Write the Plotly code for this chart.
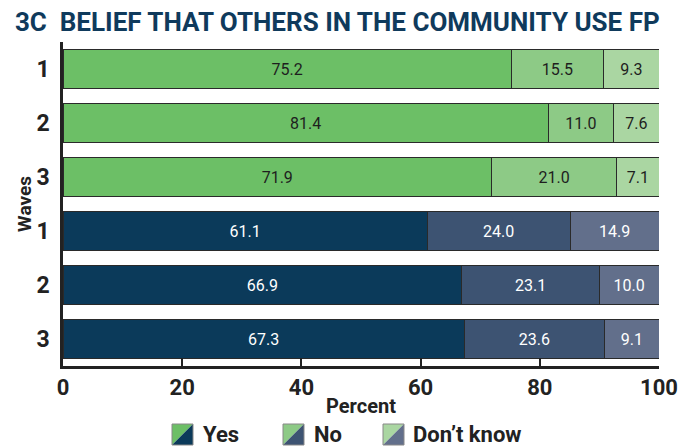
import plotly.graph_objects as go

# ---- data ----
wave_labels = ["1", "2", "3", "1", "2", "3"]
yes_vals = [75.2, 81.4, 71.9, 61.1, 66.9, 67.3]
no_vals = [15.5, 11.0, 21.0, 24.0, 23.1, 23.6]
dk_vals = [9.3, 7.6, 7.1, 14.9, 10.0, 9.1]
x_ticks = [0, 20, 40, 60, 80, 100]
legend_names = ["Yes", "No", "Don\u2019t know"]

# ---- styles ----
FONT = "Roboto, Arial, sans-serif"
green = {"Yes": "#6cbf66", "No": "#8dca86", "Dk": "#aad6a2"}
navy = {"Yes": "#0b3a5a", "No": "#3d5372", "Dk": "#626f8b"}
is_green = [True, True, True, False, False, False]

W, H = 678, 447
L, R, T, B = 63, 19, 42, 81
pw, ph = W - L - R, H - T - B

def px_to_paper(px, py):
    return (px - L) / pw, (H - B - py) / ph

ypos = list(range(len(wave_labels)))

fig = go.Figure()
series = [("Yes", yes_vals), ("No", no_vals), ("Dk", dk_vals)]
for key, vals in series:
    colors = [green[key] if g else navy[key] for g in is_green]
    tcolors = ["#1e1e1e" if g else "#ffffff" for g in is_green]
    fig.add_trace(go.Bar(
        x=vals, y=ypos, orientation="h",
        marker=dict(color=colors, line=dict(color="#2a2a2a", width=1)),
        text=[f"{v:.1f}" for v in vals], textposition="inside",
        insidetextanchor="middle", textangle=0,
        textfont=dict(family=FONT, size=16, color=tcolors),
        width=0.71, showlegend=False, hoverinfo="skip",
    ))

fig.update_layout(
    barmode="stack",
    width=W, height=H,
    margin=dict(l=L, r=R, t=T, b=B),
    paper_bgcolor="white", plot_bgcolor="white",
    font=dict(family=FONT, color="#222222"),
    title=dict(text="<b>3C  BELIEF THAT OTHERS IN THE COMMUNITY USE FP</b>",
               x=0.022, xanchor="left", y=0.95, yanchor="middle",
               font=dict(family=FONT, size=26, color="#0f3a5c")),
    uniformtext=dict(minsize=10, mode="show"),
)
fig.update_xaxes(range=[0, 100], tickvals=x_ticks, showgrid=False, zeroline=False,
                 automargin=False,
                 showline=True, linecolor="#222222", linewidth=2.5,
                 ticks="inside", ticklen=8, tickwidth=2, tickcolor="#222222",
                 tickfont=dict(family=FONT, size=22, color="#222222", weight="bold"),
                 title=dict(text="<b>Percent</b>", standoff=0,
                            font=dict(family=FONT, size=20, color="#222222")))
fig.update_yaxes(range=[5.5, -0.5], tickvals=ypos, ticktext=wave_labels,
                 automargin=False,
                 showgrid=False, zeroline=False, showline=True, linecolor="#222222",
                 linewidth=2.5, ticks="", ticklabelstandoff=6,
                 tickfont=dict(family=FONT, size=23, color="#222222", weight="bold"),
                 title=dict(text="<b>Waves</b>", standoff=0,
                            font=dict(family=FONT, size=19, color="#222222")))

# ---- custom legend with split diagonal swatches ----
legend_items = [
    (172, 201, green["Yes"], navy["Yes"]),
    (283, 312, green["No"], navy["No"]),
    (383, 411, green["Dk"], navy["Dk"]),
]
sw = 21
top = 424
for (sx, tx, c1, c2), name in zip(legend_items, legend_names):
    x0, y0 = px_to_paper(sx, top)
    x1, y1 = px_to_paper(sx + sw, top + sw)
    fig.add_shape(type="path", xref="paper", yref="paper",
                  path=f"M {x0},{y0} L {x1},{y0} L {x0},{y1} Z",
                  fillcolor=c1, line=dict(width=0))
    fig.add_shape(type="path", xref="paper", yref="paper",
                  path=f"M {x1},{y0} L {x1},{y1} L {x0},{y1} Z",
                  fillcolor=c2, line=dict(width=0))
    fig.add_shape(type="rect", xref="paper", yref="paper",
                  x0=x0, y0=y0, x1=x1, y1=y1,
                  line=dict(color="#888888", width=1))
    ax, ay = px_to_paper(tx, top + sw / 2)
    fig.add_annotation(text=f"<b>{name}</b>", xref="paper", yref="paper",
                       x=ax, y=ay, xanchor="left", yanchor="middle", showarrow=False,
                       font=dict(family=FONT, size=22, color="#222222"))

fig.write_html("out.html")
